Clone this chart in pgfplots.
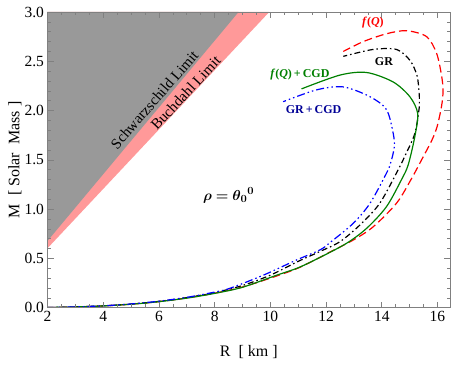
\documentclass[border=0pt]{standalone}
\usepackage{fontspec}
\setmainfont{Liberation Serif}
\usepackage{bm}
\usepackage{pgfplots}
\pgfplotsset{compat=1.18}
\definecolor{sgray}{RGB}{153,153,153}
\definecolor{spink}{RGB}{255,153,153}
\definecolor{fqred}{RGB}{255,0,0}
\definecolor{grgreen}{RGB}{0,128,0}
\definecolor{grblue}{RGB}{0,0,255}
\definecolor{navytext}{RGB}{0,0,150}
\definecolor{framegray}{RGB}{128,128,128}

\begin{document}
\begin{tikzpicture}
\begin{axis}[
 name=ax,
 scale only axis, width=402.5pt, height=295.7pt,
 xmin=2, xmax=16.45, ymin=0, ymax=3,
 axis on top,
 xtick={2,4,...,16}, ytick={0,0.5,...,3},
 minor x tick num=3, minor y tick num=4,
 tick align=inside,
 major tick length=6pt, minor tick length=3.5pt,
 tick style={color=framegray, line width=0.6pt},
 axis line style={color=framegray, line width=0.8pt},
 tick label style={font=\fontsize{15.5}{17}\selectfont},
 /pgf/number format/assume math mode=true,
 yticklabel style={/pgf/number format/fixed, /pgf/number format/fixed zerofill, /pgf/number format/precision=1},
 xlabel={R \ [ km ]}, ylabel={M \ [ Solar \ Mass ]},
 label style={font=\fontsize{16}{18}\selectfont},
 xlabel style={at={(axis description cs:0.5,-0.1488)}, anchor=center},
 ylabel style={at={(axis description cs:-0.0807,0.5)}, anchor=center},
]
\addplot[fill=spink, draw=none] coordinates {(2,0.603) (9.96,3) (2,3) (2,0.603)};
\addplot[fill=sgray, draw=none] coordinates {(2,0.677) (8.86,3) (2,3) (2,0.677)};
\addplot[fqred, line width=1.2pt, dash pattern=on 8pt off 4pt, smooth] coordinates {
(2,0.002) (3,0.008) (4,0.018) (5,0.036) (6,0.062) (7,0.099) (8,0.147) (9,0.21) (10,0.30)
(10.94,0.395) (11.78,0.51) (12.14,0.565) (12.98,0.687) (13.69,0.82) (14.53,1.06) (15.05,1.30) (15.43,1.5)
(15.8,1.70) (15.99,1.84) (16.15,2.05) (16.2,2.2) (16.15,2.35) (15.97,2.58) (15.61,2.75)
(14.89,2.81) (14.18,2.78) (13.34,2.70) (12.62,2.60)};
\addplot[black, line width=1.2pt, dash pattern=on 6pt off 3pt on 1.5pt off 3pt, smooth] coordinates {
(2,0.002) (3,0.008) (4,0.019) (5,0.037) (6,0.064) (7,0.102) (8,0.153) (9,0.225) (10,0.33)
(11.0,0.47) (11.78,0.57) (12.5,0.67) (13.22,0.84) (13.93,1.06) (14.59,1.40) (14.85,1.55) (15.19,1.77)
(15.35,2.04) (15.35,2.14) (15.27,2.35) (15.01,2.51) (14.53,2.62) (13.69,2.62) (12.62,2.55)};
\addplot[grgreen, line width=1.2pt, smooth] coordinates {
(2,0.002) (3,0.0077) (4,0.018) (5,0.035) (6,0.061) (7,0.097) (8,0.145) (9,0.207) (10.23,0.33)
(11.0,0.405) (11.78,0.51) (12.74,0.654) (13.46,0.806) (14.17,1.025) (14.71,1.30) (14.95,1.45) (15.19,1.74)
(15.29,1.97) (15.01,2.14) (14.41,2.29) (13.46,2.386) (12.5,2.36) (11.12,2.22)};
\addplot[grblue, line width=1.2pt, dash pattern=on 8pt off 3pt on 1.5pt off 3pt on 1.5pt off 3pt, smooth] coordinates {
(2,0.002) (3,0.008) (4,0.019) (5,0.038) (6,0.066) (7,0.105) (8,0.158) (8.55,0.197) (9.75,0.33)
(10.94,0.484) (11.78,0.586) (12.14,0.66) (12.98,0.857) (13.58,1.06) (14.17,1.365) (14.32,1.47)
(14.45,1.63) (14.41,1.77) (14.17,2.01) (13.58,2.14) (12.62,2.24) (11.66,2.21) (10.46,2.09)};
\node[rotate=49, font=\fontsize{15}{17}\selectfont] at (axis cs:5.84,2.11) {Schwarzschild Limit};
\node[rotate=47, font=\fontsize{15}{17}\selectfont] at (axis cs:6.96,2.18) {Buchdahl Limit};
\node[text=fqred, font=\fontsize{12}{14}\selectfont\bfseries] at (axis cs:13.68,2.89) {\textit{f}(\textit{Q})};
\node[text=black, font=\fontsize{12}{14}\selectfont\bfseries] at (axis cs:14.08,2.50) {GR};
\node[text=grgreen, font=\fontsize{12}{14}\selectfont\bfseries] at (axis cs:11.06,2.37) {\textit{f}(\textit{Q})\,+\,CGD};
\node[text=navytext, font=\fontsize{12}{14}\selectfont\bfseries] at (axis cs:11.55,2.01) {GR\,+\,CGD};
\node[text=black, font=\fontsize{15}{17}\selectfont] at (axis cs:8.5,1.14) {$\bm{\rho=\theta_0{}^0}$};
\end{axis}
\pgfresetboundingbox
\path[use as bounding box] ([xshift=-47.5pt,yshift=-57.3pt]ax.south west) rectangle ([xshift=2pt,yshift=12pt]ax.north east);
\end{tikzpicture}
\end{document}
